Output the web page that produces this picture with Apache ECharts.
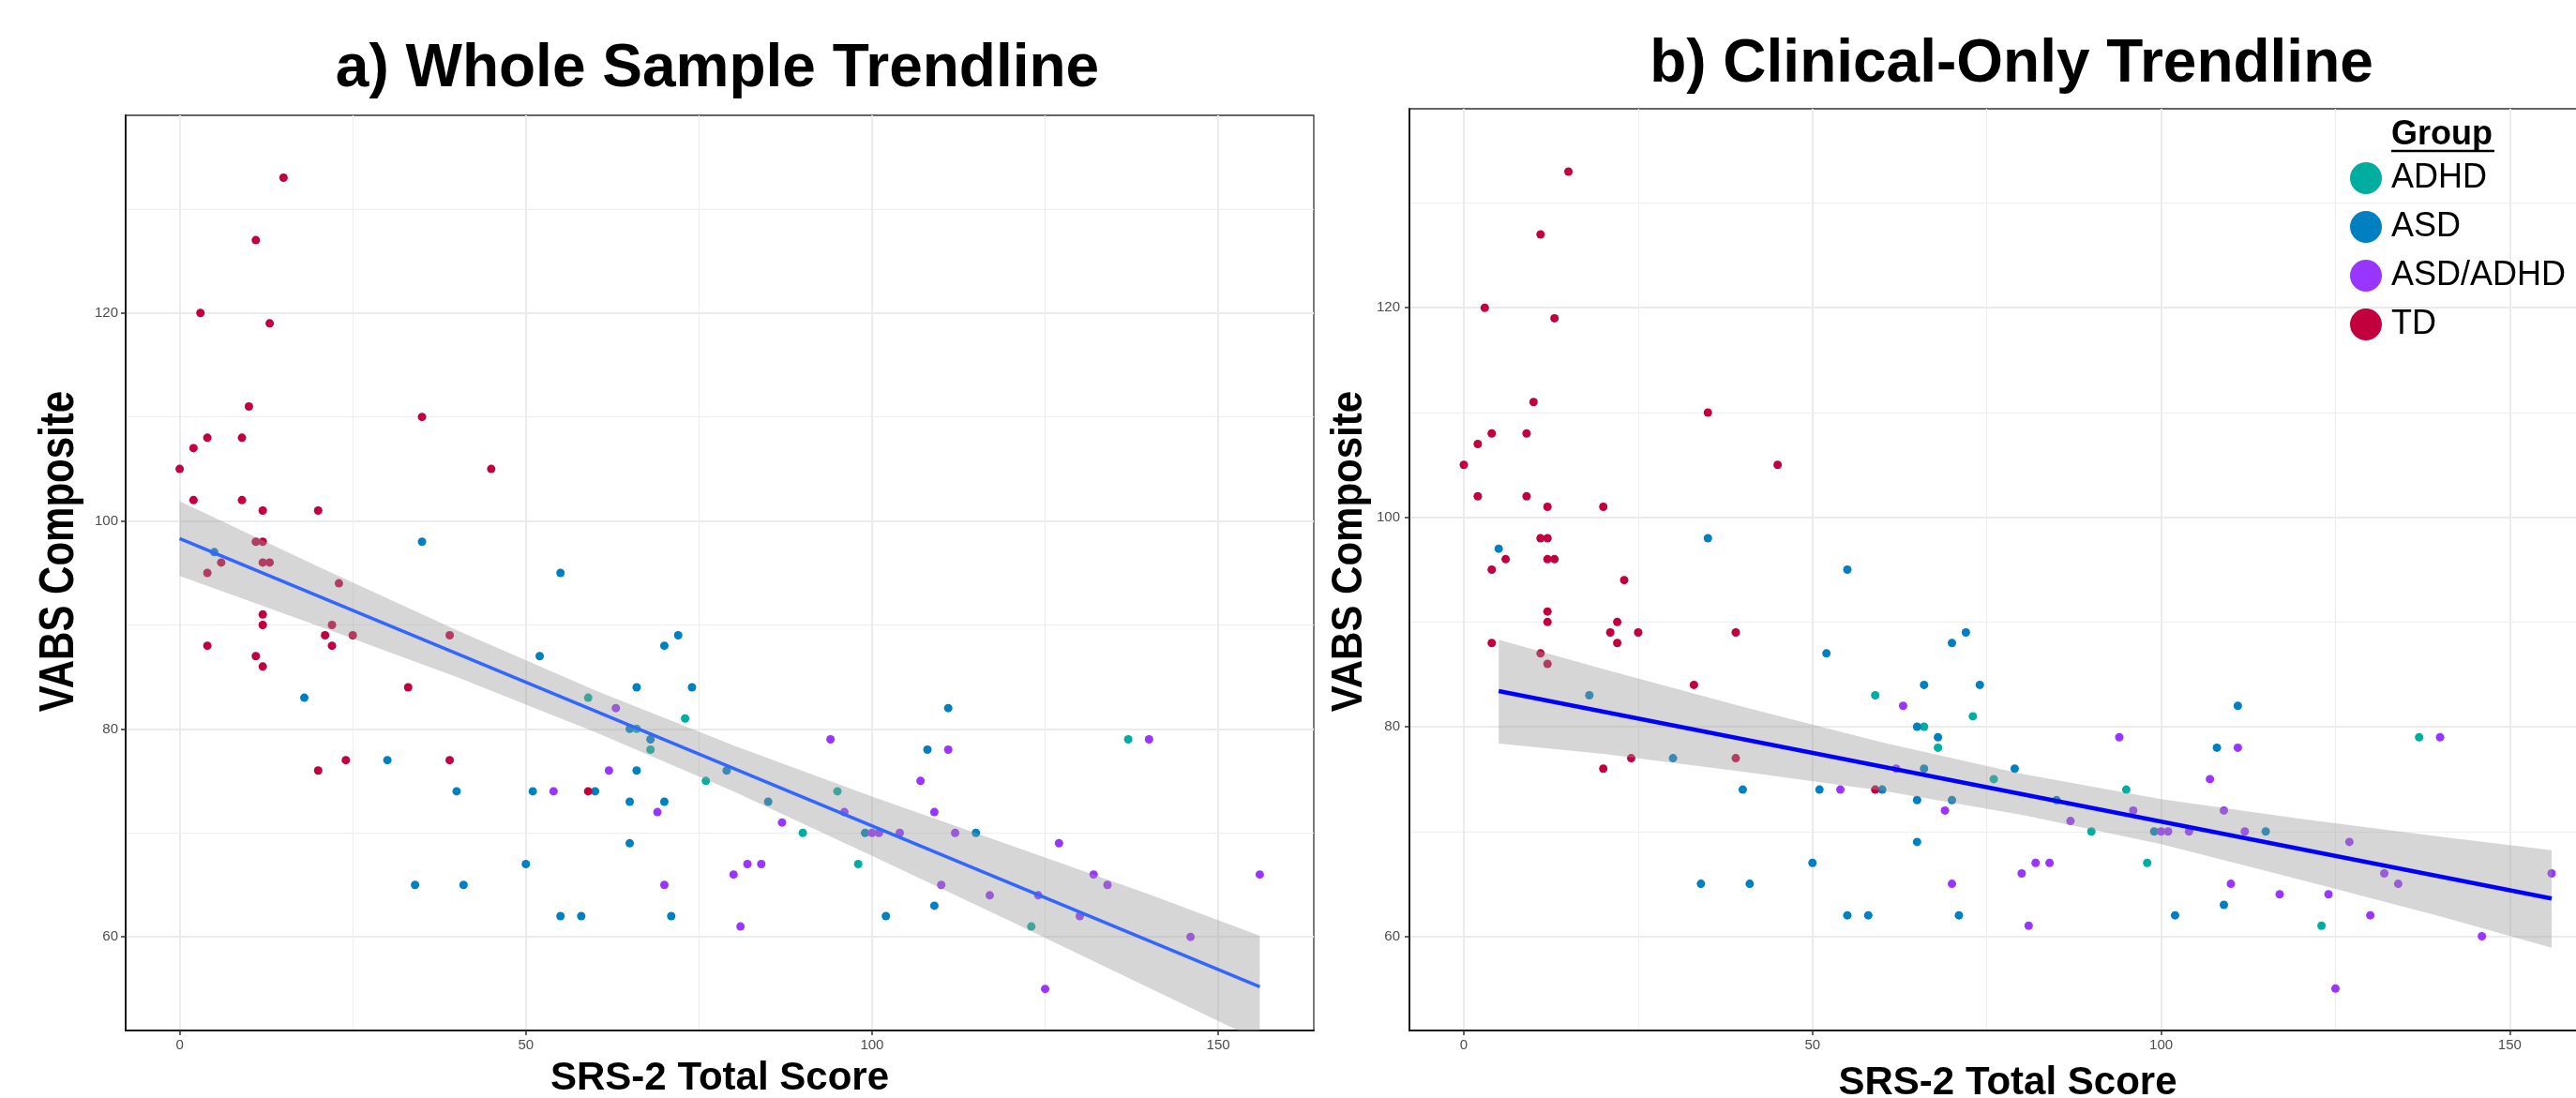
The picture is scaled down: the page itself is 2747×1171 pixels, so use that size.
<!DOCTYPE html>
<html>
<head>
<meta charset="utf-8">
<title>SRS-2 vs VABS trendlines</title>
<script src="https://cdn.jsdelivr.net/npm/echarts@6.0.0/dist/echarts.min.js"></script>
<style>
html, body { margin: 0; padding: 0; background: #fff; }
#chart { width: 2747px; height: 1171px; }
</style>
</head>
<body>
<div id="chart"></div>
<script>
var FONT = '"Liberation Sans", Arial, Helvetica, sans-serif';

// points are [SRS-2 total score, VABS composite]
var tdPoints = [[15,133],[11,127],[3,120],[13,119],[10,111],[35,110],[4,108],[9,108],[2,107],[0,105],[45,105],
  [2,102],[9,102],[12,101],[20,101],[11,98],[12,98],[6,96],[12,96],[13,96],[4,95],[23,94],[12,91],[12,90],
  [22,90],[21,89],[25,89],[39,89],[4,88],[22,88],[11,87],[12,86],[33,84],[24,77],[39,77],[20,76],[59,74]];
var asdPoints = [[35,98],[5,97],[55,95],[72,89],[70,88],[52,87],[66,84],[74,84],[18,83],[111,82],[65,80],
  [68,79],[108,78],[30,77],[66,76],[79,76],[40,74],[51,74],[60,74],[65,73],[70,73],[85,73],[99,70],[115,70],
  [65,69],[50,67],[34,65],[41,65],[109,63],[55,62],[58,62],[71,62],[102,62]];
var adhdPoints = [[59,83],[73,81],[66,80],[137,79],[68,78],[76,75],[95,74],[90,70],[98,67],[123,61]];
var comboPoints = [[63,82],[94,79],[140,79],[111,78],[62,76],[107,75],[54,74],[69,72],[96,72],[109,72],
  [87,71],[100,70],[101,70],[104,70],[112,70],[127,69],[82,67],[84,67],[80,66],[132,66],[156,66],[70,65],
  [110,65],[134,65],[117,64],[124,64],[130,62],[81,61],[146,60],[125,55]];

var groups = ['ADHD', 'ASD', 'ASD/ADHD', 'TD'];
var groupPoints = [adhdPoints, asdPoints, comboPoints, tdPoints];
var groupColors = ['#00ae9f', '#0080c1', '#9835ff', '#c2003d'];

var xTicks = [0, 50, 100, 150];
var xMinor = [25, 75, 125];
var yTicks = [60, 80, 100, 120];
var yMinor = [70, 90, 110, 130];

// fitted lines and confidence bands
var wholeLineX = [0, 156];
var wholeLineY = [98.3, 55.2];
var wholeBandX = [0, 20, 40, 60, 80, 100, 120, 140, 156];
var wholeBandHi = [101.9, 95.6, 89.5, 83.7, 78.4, 73.5, 68.8, 64.1, 60.1];
var wholeBandLo = [94.7, 89.9, 85.0, 79.7, 74.0, 67.8, 61.5, 55.1, 50.0];

var clinLineX = [5, 156];
var clinLineY = [83.4, 63.6];
var clinBandX = [5, 20, 40, 60, 80, 100, 120, 140, 156];
var clinBandHi = [88.3, 85.5, 81.9, 78.5, 75.5, 73.1, 71.2, 69.5, 68.2];
var clinBandLo = [78.4, 77.4, 75.7, 73.9, 71.6, 68.8, 65.4, 61.9, 58.9];

var panels = [
  { grid: { left: 134, top: 123, width: 1267, height: 976 }, labelGap: 8, nameGap: 30,
    lineX: wholeLineX, lineY: wholeLineY, bandX: wholeBandX, bandHi: wholeBandHi, bandLo: wholeBandLo,
    lineColor: '#3366ff', lineWidth: 3.5 },
  { grid: { left: 1503, top: 116, width: 1276, height: 983 }, labelGap: 10, nameGap: 35,
    lineX: clinLineX, lineY: clinLineY, bandX: clinBandX, bandHi: clinBandHi, bandLo: clinBandLo,
    lineColor: '#0000ff', lineWidth: 4.5 }
];

var grids = [], xAxes = [], yAxes = [], series = [];

panels.forEach(function (p, g) {
  grids.push({
    left: p.grid.left, top: p.grid.top, width: p.grid.width, height: p.grid.height,
    outerBoundsMode: 'none', containLabel: false,
    show: true, borderColor: '#333', borderWidth: 1.3, backgroundColor: '#fff'
  });
  // main axes
  xAxes.push({
    type: 'value', gridIndex: g, min: -7.8, max: 163.8,
    axisLine: { show: true, onZero: false, lineStyle: { color: '#1a1a1a', width: 2 } },
    axisTick: { show: true, customValues: xTicks, length: 5, lineStyle: { color: '#333', width: 1.5 } },
    axisLabel: { customValues: xTicks, margin: 8, color: '#4d4d4d', fontSize: 15, fontFamily: FONT },
    splitLine: { show: true, lineStyle: { color: '#ebebeb', width: 2 } },
    name: 'SRS-2 Total Score', nameLocation: 'middle', nameGap: p.nameGap,
    nameTextStyle: { fontFamily: FONT, fontWeight: 'bold', fontSize: 42, color: '#000' }
  });
  // minor gridlines
  xAxes.push({
    type: 'value', gridIndex: g, min: -7.8, max: 163.8, position: 'bottom',
    axisLine: { show: false }, axisTick: { show: false, customValues: xMinor }, axisLabel: { show: false },
    splitLine: { show: true, lineStyle: { color: '#eeeeee', width: 1.2 } }
  });
  yAxes.push({
    type: 'value', gridIndex: g, min: 51, max: 139,
    axisLine: { show: true, onZero: false, lineStyle: { color: '#1a1a1a', width: 2 } },
    axisTick: { show: true, customValues: yTicks, length: 5, lineStyle: { color: '#333', width: 1.5 } },
    axisLabel: { customValues: yTicks, margin: p.labelGap, color: '#4d4d4d', fontSize: 15, fontFamily: FONT },
    splitLine: { show: true, lineStyle: { color: '#ebebeb', width: 2 } }
  });
  yAxes.push({
    type: 'value', gridIndex: g, min: 51, max: 139, position: 'left',
    axisLine: { show: false }, axisTick: { show: false, customValues: yMinor }, axisLabel: { show: false },
    splitLine: { show: true, lineStyle: { color: '#eeeeee', width: 1.2 } }
  });

  groups.forEach(function (name, k) {
    series.push({
      type: 'scatter', name: name, xAxisIndex: 2 * g, yAxisIndex: 2 * g,
      data: groupPoints[k], symbol: 'circle', symbolSize: 9,
      itemStyle: { color: groupColors[k], opacity: 1 }, z: 2, silent: true
    });
  });

  // confidence band on top of the points, like ggplot
  series.push({
    type: 'custom', xAxisIndex: 2 * g, yAxisIndex: 2 * g, clip: true, z: 3, silent: true,
    data: [0],
    renderItem: function (params, api) {
      var pts = [];
      for (var i = 0; i < p.bandX.length; i++) pts.push(api.coord([p.bandX[i], p.bandHi[i]]));
      for (var j = p.bandX.length - 1; j >= 0; j--) pts.push(api.coord([p.bandX[j], p.bandLo[j]]));
      return { type: 'polygon', shape: { points: pts }, style: { fill: 'rgba(153,153,153,0.4)' } };
    }
  });

  series.push({
    type: 'line', xAxisIndex: 2 * g, yAxisIndex: 2 * g, z: 4, silent: true,
    data: p.lineX.map(function (x, i) { return [x, p.lineY[i]]; }),
    symbol: 'none', lineStyle: { color: p.lineColor, width: p.lineWidth }
  });
});

var chart = echarts.init(document.getElementById('chart'));
chart.setOption({
  animation: false,
  backgroundColor: '#fff',
  title: [
    { text: 'a) Whole Sample Trendline', left: 765, top: 42, textAlign: 'center', padding: 0,
      textStyle: { fontFamily: FONT, fontWeight: 'bold', fontSize: 64, color: '#000' } },
    { text: 'b) Clinical-Only Trendline', left: 2145, top: 37, textAlign: 'center', padding: 0,
      textStyle: { fontFamily: FONT, fontWeight: 'bold', fontSize: 64, color: '#000' } }
  ],
  legend: {
    data: groups.map(function (n) { return { name: n, icon: 'circle' }; }),
    orient: 'vertical', left: 2506, top: 172, padding: 0,
    itemWidth: 34, itemHeight: 34, itemGap: 16, selectedMode: false,
    textStyle: { fontFamily: FONT, fontSize: 36, color: '#000', lineHeight: 34, padding: [0, 0, 0, 5] }
  },
  graphic: [
    { type: 'text', x: 63.6, y: 588, rotation: Math.PI / 2, scaleY: 1.25, z: 10,
      style: { text: 'VABS Composite', font: 'bold 42px ' + FONT, fill: '#000', align: 'center', verticalAlign: 'middle' } },
    { type: 'text', x: 1439, y: 588, rotation: Math.PI / 2, scaleY: 1.12, z: 10,
      style: { text: 'VABS Composite', font: 'bold 42px ' + FONT, fill: '#000', align: 'center', verticalAlign: 'middle' } },
    { type: 'text', x: 2550, y: 144, z: 10,
      style: { text: 'Group', font: 'bold 36px ' + FONT, fill: '#000', align: 'left', verticalAlign: 'middle' } },
    { type: 'line', z: 10, shape: { x1: 2550, y1: 161, x2: 2660, y2: 161 }, style: { stroke: '#000', lineWidth: 2.5 } }
  ],
  grid: grids,
  xAxis: xAxes,
  yAxis: yAxes,
  series: series
});
</script>
</body>
</html>
